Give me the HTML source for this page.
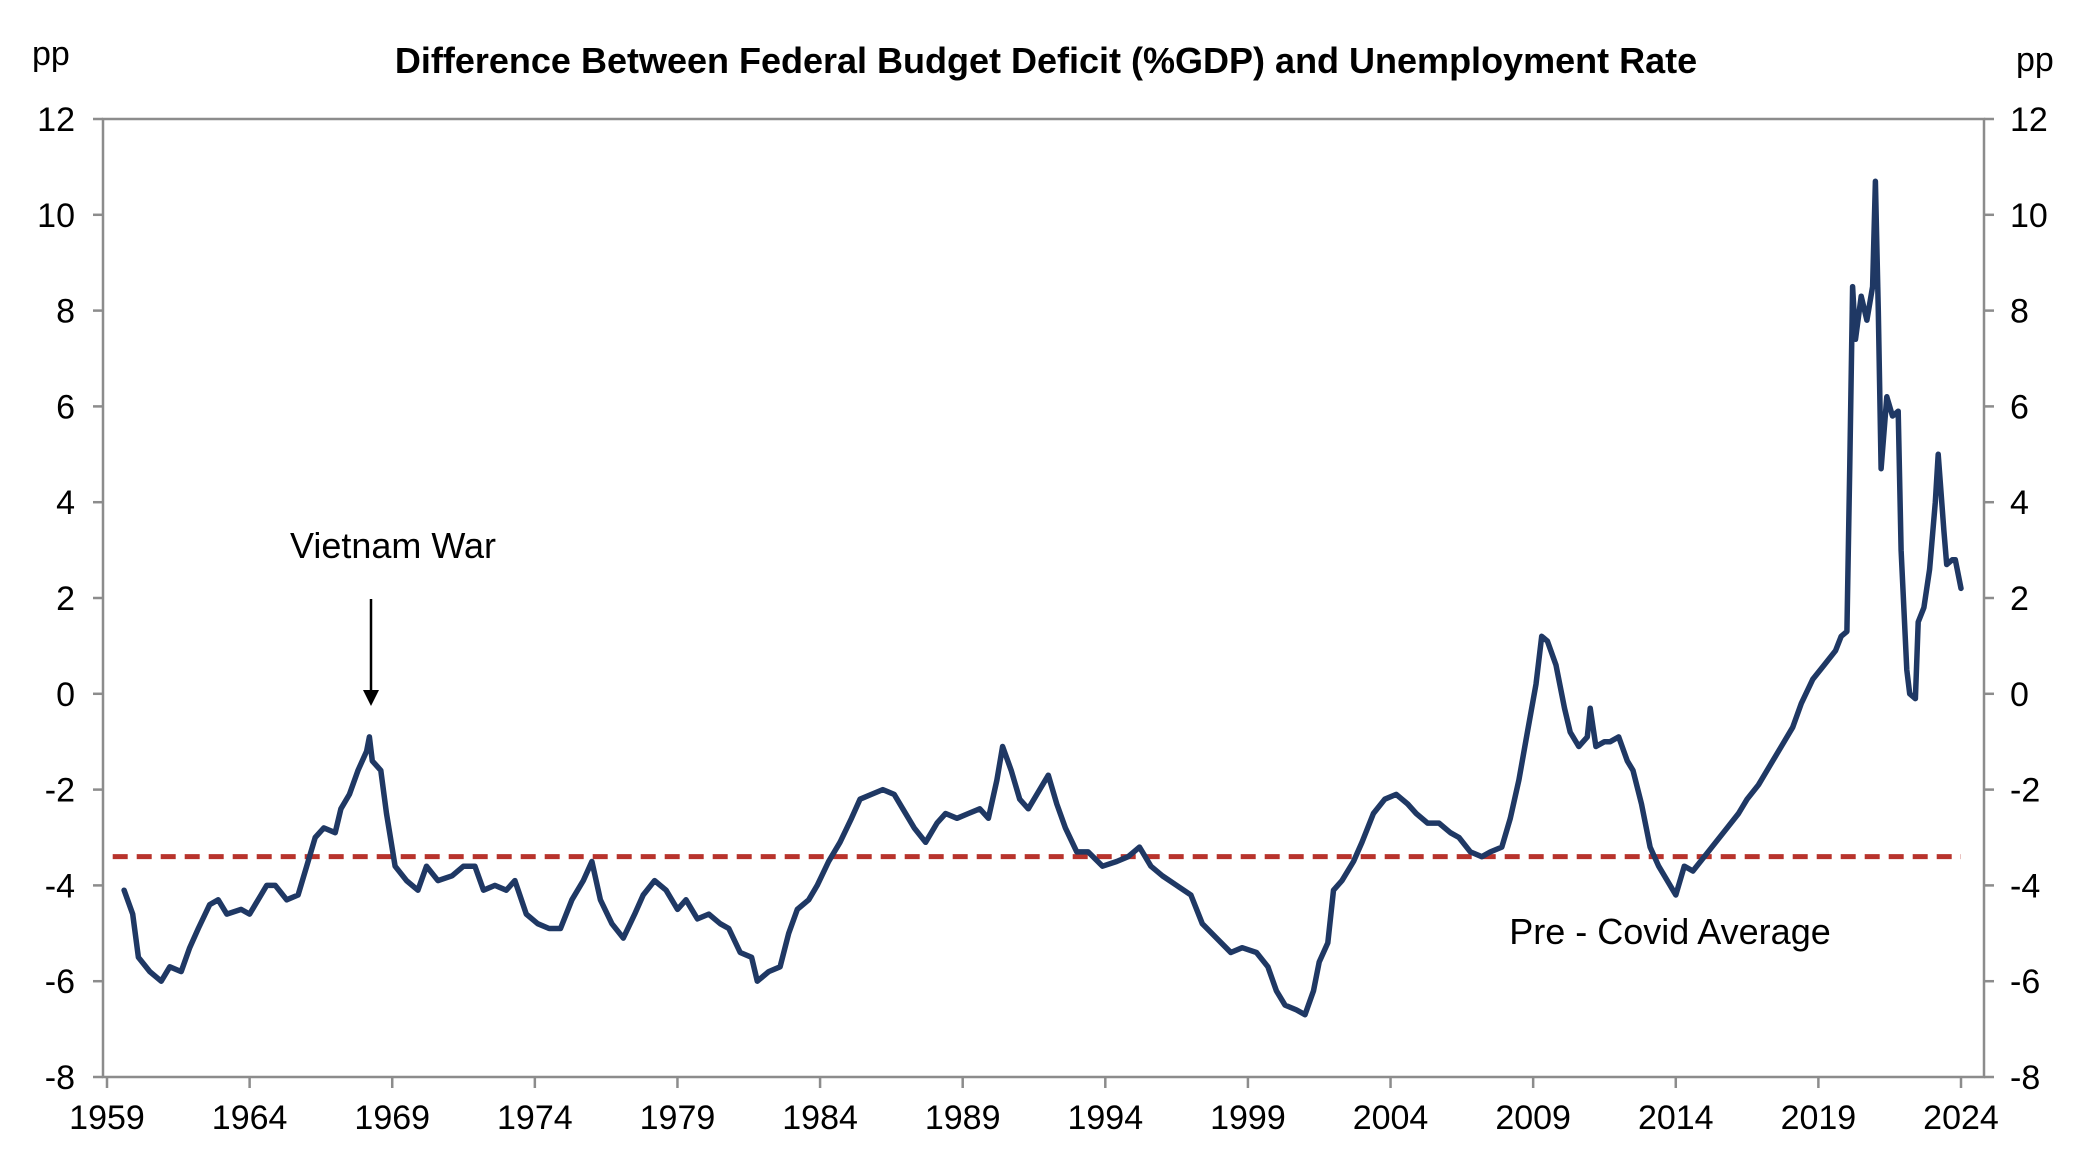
<!DOCTYPE html>
<html><head><meta charset="utf-8"><style>
html,body{margin:0;padding:0;background:#fff;}
svg{display:block;font-family:"Liberation Sans",Arial,sans-serif;}
</style></head><body>
<svg id="chart" width="2092" height="1174" viewBox="0 0 2092 1174" xmlns="http://www.w3.org/2000/svg">
<text x="1046" y="73" text-anchor="middle" font-size="36" font-weight="bold" fill="#000">Difference Between Federal Budget Deficit (%GDP) and Unemployment Rate</text>
<text x="32" y="65" font-size="34" fill="#000">pp</text>
<text x="2016" y="71" font-size="34" fill="#000">pp</text>
<g id="axes"></g>
<g id="series"></g>
<text x="393" y="558" text-anchor="middle" font-size="36" fill="#000">Vietnam War</text>
<g>
<line x1="371" y1="599" x2="371" y2="692" stroke="#000" stroke-width="2.5"/>
<polygon points="363,690 379,690 371,706" fill="#000"/>
</g>
<text x="1670" y="944" text-anchor="middle" font-size="36" fill="#000">Pre - Covid Average</text>
</svg>
<script>
const yTicks=[-8,-6,-4,-2,0,2,4,6,8,10,12];
const xTickYears=[1959,1964,1969,1974,1979,1984,1989,1994,1999,2004,2009,2014,2019,2024];
const preCovidAverage=-3.4;
const years=[1959.6,1959.9,1960.1,1960.5,1960.9,1961.2,1961.6,1961.9,1962.2,1962.6,1962.9,1963.2,1963.7,1964.0,1964.4,1964.6,1964.9,1965.3,1965.7,1966.0,1966.3,1966.6,1967.0,1967.2,1967.5,1967.8,1968.1,1968.2,1968.3,1968.6,1968.8,1969.1,1969.5,1969.9,1970.2,1970.6,1971.1,1971.5,1971.9,1972.2,1972.6,1973.0,1973.3,1973.7,1974.1,1974.5,1974.9,1975.3,1975.7,1976.0,1976.3,1976.7,1977.1,1977.5,1977.8,1978.2,1978.6,1979.0,1979.3,1979.7,1980.1,1980.5,1980.8,1981.2,1981.6,1981.8,1982.2,1982.6,1982.9,1983.2,1983.6,1983.9,1984.3,1984.7,1985.1,1985.4,1985.8,1986.2,1986.6,1986.9,1987.3,1987.7,1988.1,1988.4,1988.8,1989.2,1989.6,1989.9,1990.2,1990.4,1990.7,1991.0,1991.3,1991.7,1992.0,1992.3,1992.6,1993.0,1993.4,1993.9,1994.4,1994.8,1995.2,1995.6,1996.0,1996.5,1997.0,1997.4,1997.9,1998.4,1998.8,1999.3,1999.7,2000.0,2000.3,2000.7,2001.0,2001.3,2001.5,2001.8,2002.0,2002.3,2002.7,2003.0,2003.4,2003.8,2004.2,2004.6,2004.9,2005.3,2005.7,2006.1,2006.4,2006.8,2007.2,2007.5,2007.9,2008.2,2008.5,2008.8,2009.1,2009.3,2009.5,2009.8,2010.1,2010.3,2010.6,2010.9,2011.0,2011.2,2011.5,2011.7,2012.0,2012.3,2012.5,2012.8,2013.1,2013.4,2013.8,2014.0,2014.3,2014.6,2015.0,2015.4,2015.8,2016.2,2016.5,2016.9,2017.3,2017.7,2018.1,2018.4,2018.8,2019.2,2019.6,2019.8,2020.0,2020.1,2020.2,2020.3,2020.5,2020.7,2020.9,2021.0,2021.1,2021.2,2021.4,2021.6,2021.8,2021.9,2022.1,2022.2,2022.4,2022.5,2022.7,2022.9,2023.1,2023.2,2023.4,2023.5,2023.7,2023.8,2024.0];
const values=[-4.1,-4.6,-5.5,-5.8,-6.0,-5.7,-5.8,-5.3,-4.9,-4.4,-4.3,-4.6,-4.5,-4.6,-4.2,-4.0,-4.0,-4.3,-4.2,-3.6,-3.0,-2.8,-2.9,-2.4,-2.1,-1.6,-1.2,-0.9,-1.4,-1.6,-2.5,-3.6,-3.9,-4.1,-3.6,-3.9,-3.8,-3.6,-3.6,-4.1,-4.0,-4.1,-3.9,-4.6,-4.8,-4.9,-4.9,-4.3,-3.9,-3.5,-4.3,-4.8,-5.1,-4.6,-4.2,-3.9,-4.1,-4.5,-4.3,-4.7,-4.6,-4.8,-4.9,-5.4,-5.5,-6.0,-5.8,-5.7,-5.0,-4.5,-4.3,-4.0,-3.5,-3.1,-2.6,-2.2,-2.1,-2.0,-2.1,-2.4,-2.8,-3.1,-2.7,-2.5,-2.6,-2.5,-2.4,-2.6,-1.8,-1.1,-1.6,-2.2,-2.4,-2.0,-1.7,-2.3,-2.8,-3.3,-3.3,-3.6,-3.5,-3.4,-3.2,-3.6,-3.8,-4.0,-4.2,-4.8,-5.1,-5.4,-5.3,-5.4,-5.7,-6.2,-6.5,-6.6,-6.7,-6.2,-5.6,-5.2,-4.1,-3.9,-3.5,-3.1,-2.5,-2.2,-2.1,-2.3,-2.5,-2.7,-2.7,-2.9,-3.0,-3.3,-3.4,-3.3,-3.2,-2.6,-1.8,-0.8,0.2,1.2,1.1,0.6,-0.3,-0.8,-1.1,-0.9,-0.3,-1.1,-1.0,-1.0,-0.9,-1.4,-1.6,-2.3,-3.2,-3.6,-4.0,-4.2,-3.6,-3.7,-3.4,-3.1,-2.8,-2.5,-2.2,-1.9,-1.5,-1.1,-0.7,-0.2,0.3,0.6,0.9,1.2,1.3,4.8,8.5,7.4,8.3,7.8,8.5,10.7,8.0,4.7,6.2,5.8,5.9,3.0,0.5,0.0,-0.1,1.5,1.8,2.6,4.0,5.0,3.4,2.7,2.8,2.8,2.2];

const NS="http://www.w3.org/2000/svg";
const L=103,R=1984,T=119,B=1077;
const x0=107,x1=1961,y0=1959,yr1=2024;
function xs(y){return x0+(y-y0)*(x1-x0)/(yr1-y0);}
function ys(v){return B-(v+8)*(B-T)/20;}
function mk(tag,attrs,parent){const e=document.createElementNS(NS,tag);for(const k in attrs)e.setAttribute(k,attrs[k]);parent.appendChild(e);return e;}
const ax=document.getElementById('axes');
const frame=mk('rect',{x:L,y:T,width:R-L,height:B-T,fill:'none',stroke:'#8c8c8c','stroke-width':2.5},ax);


yTicks.forEach(v=>{
  const y=ys(v);
  mk('line',{x1:L-10,x2:L,y1:y,y2:y,stroke:'#8c8c8c','stroke-width':2.5},ax);
  mk('line',{x1:R,x2:R+10,y1:y,y2:y,stroke:'#8c8c8c','stroke-width':2.5},ax);
  const t=mk('text',{x:L-28,y:y+12,'text-anchor':'end','font-size':34,fill:'#000'},ax);
  t.textContent=v;
  
  
  const t2=mk('text',{x:R+26,y:y+12,'text-anchor':'start','font-size':34,fill:'#000'},ax);
  t2.textContent=v;
  
  
});
xTickYears.forEach(yv=>{
  const x=xs(yv);
  mk('line',{x1:x,x2:x,y1:B,y2:B+11,stroke:'#8c8c8c','stroke-width':2.5},ax);
  const t=mk('text',{x:x,y:B+52,'text-anchor':'middle','font-size':34,fill:'#000'},ax);
  t.textContent=yv;
  
  
});
const sg=document.getElementById('series');
const avg=mk('line',{x1:xs(1959.2),x2:xs(2024),y1:ys(preCovidAverage),y2:ys(preCovidAverage),stroke:'#b8332c','stroke-width':5,'stroke-dasharray':'15,9'},sg);


const pts=years.map((y,i)=>xs(y).toFixed(1)+','+ys(values[i]).toFixed(1)).join(' ');
const pl=mk('polyline',{points:pts,fill:'none',stroke:'#1f3864','stroke-width':5.5,'stroke-linejoin':'round','stroke-linecap':'round'},sg);


</script>
</body></html>
